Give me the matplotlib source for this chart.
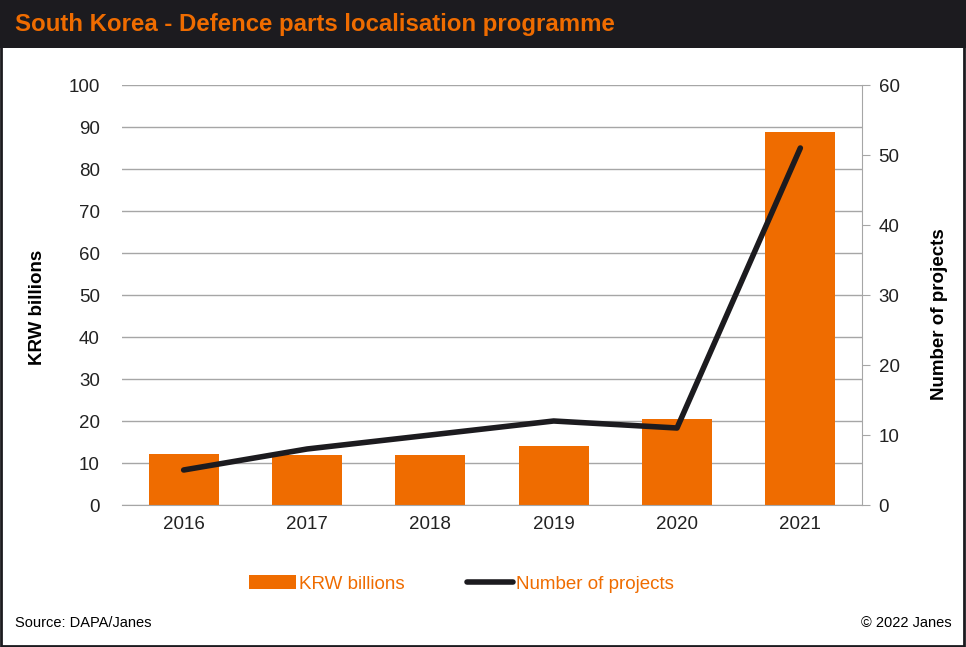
import matplotlib.pyplot as plt
import numpy as np
from matplotlib.patches import Rectangle

plt.rcParams['font.family'] = ['Liberation Sans', 'DejaVu Sans']

# data
years = ['2016', '2017', '2018', '2019', '2020', '2021']
krw_billions = [12.1, 11.9, 11.9, 14.0, 20.4, 88.7]
num_projects = [5, 8, 10, 12, 11, 51]

orange = '#ef6c00'
dark = '#1c1b1f'
grey = '#a6a6a6'

fig = plt.figure(figsize=(9.66, 6.47), dpi=100)

# title bar and outer frame
fig.patches.append(Rectangle((0, 1 - 48 / 647), 1, 48 / 647, transform=fig.transFigure,
                             facecolor=dark, edgecolor='none', zorder=0))
fig.patches.append(Rectangle((0.001, 0.002), 0.997, 0.995, transform=fig.transFigure,
                             facecolor='none', edgecolor=dark, linewidth=2, zorder=5))
fig.text(15 / 966, 1 - 25 / 647, 'South Korea - Defence parts localisation programme',
         color=orange, fontsize=17.3, fontweight='bold', va='center', ha='left')

ax = fig.add_axes([122 / 966, 1 - 505 / 647, 740 / 966, 420 / 647])
x = np.arange(len(years))
bars = ax.bar(x, krw_billions, width=0.57, color=orange, zorder=2, label='KRW billions')
ax.set_xlim(-0.5, len(years) - 0.5)
ax.set_ylim(0, 100)
ax.set_yticks(range(0, 101, 10))
ax.set_xticks(x)
ax.set_xticklabels(years)
ax.yaxis.grid(True, color=grey, linewidth=1, zorder=0)
ax.set_axisbelow(True)
for s in ['top', 'left', 'right']:
    ax.spines[s].set_visible(False)
ax.spines['bottom'].set_color(grey)
ax.tick_params(axis='both', length=0, labelsize=13.5, colors='#222222', pad=8)
ax.tick_params(axis='y', pad=16)
ax.set_ylabel('KRW billions', fontsize=13.5, fontweight='bold')
ax.yaxis.set_label_coords(-76 / 740, 0.471)

ax2 = ax.twinx()
line, = ax2.plot(x, num_projects, color=dark, linewidth=4, solid_capstyle='round',
                 zorder=3, label='Number of projects')
ax2.set_ylim(0, 60)
ax2.set_yticks(range(0, 61, 10))
for s in ['top', 'left', 'bottom']:
    ax2.spines[s].set_visible(False)
ax2.spines['right'].set_color(grey)
ax2.tick_params(axis='y', length=6, color=grey, labelsize=13.5, colors='#222222', pad=6)
ax2.tick_params(axis='y', color=grey)
ax2.set_ylabel('Number of projects', fontsize=13.5, fontweight='bold', rotation=90)
ax2.yaxis.set_label_coords(1 + 69 / 740, 0.455)

leg = fig.legend([bars, line], ['KRW billions', 'Number of projects'], loc='center',
                 bbox_to_anchor=(0.478, 1 - 584 / 647), ncol=2, frameon=False,
                 fontsize=13.5, handlelength=2.5, handletextpad=0.15, columnspacing=3.3)
for t in leg.get_texts():
    t.set_color(orange)

fig.text(15 / 966, 1 - 623 / 647, 'Source: DAPA/Janes', fontsize=10.5, va='center', ha='left')
fig.text(952 / 966, 1 - 623 / 647, '© 2022 Janes', fontsize=10.5, va='center', ha='right')

fig.savefig('out.png', dpi=100)
